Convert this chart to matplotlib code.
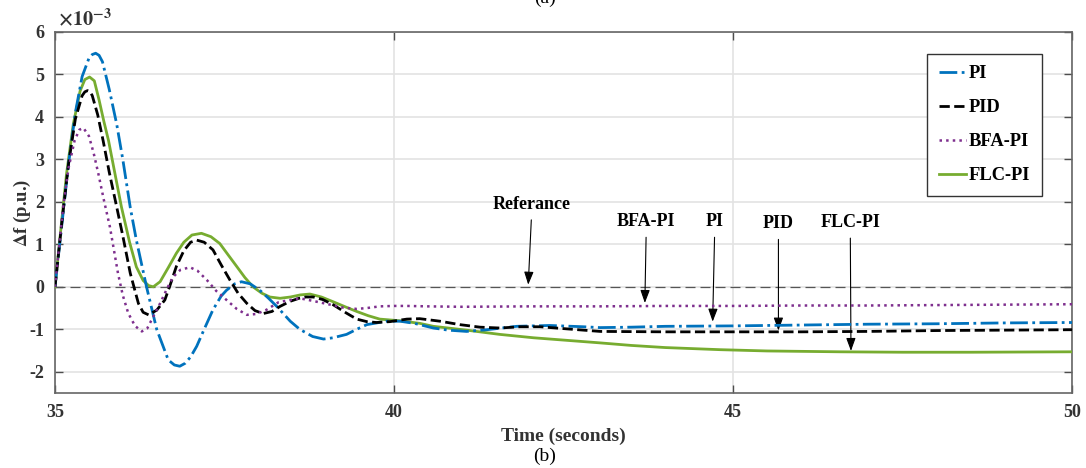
import numpy as np
import matplotlib
matplotlib.use("Agg")
import matplotlib.pyplot as plt

plt.rcParams['font.family'] = ['Liberation Serif', 'DejaVu Serif']
plt.rcParams['font.weight'] = 'bold'
plt.rcParams['mathtext.fontset'] = 'stix'

# ---- data (time in s, delta f in units of 1e-3 p.u.) ----
t_pi = [35.0, 35.1, 35.2, 35.3, 35.4, 35.5, 35.55, 35.6, 35.65, 35.7, 35.8, 35.91, 36.0, 36.11,
        36.2, 36.35, 36.5, 36.67, 36.76, 36.84, 36.92, 37.0, 37.09, 37.2, 37.33, 37.45, 37.53,
        37.65, 37.75, 37.88, 38.02, 38.15, 38.27, 38.47, 38.61, 38.8, 38.96, 39.1,
        39.3, 39.45, 39.6, 39.89, 40.09, 40.3, 40.58, 40.8, 41.07, 41.37, 41.81,
        42.3, 42.79, 43.04, 43.5, 44.0, 45.0, 46.0, 47.0, 48.0, 49.0, 50.0]
y_pi = [0.0, 1.45, 2.9, 4.1, 4.95, 5.38, 5.47, 5.5, 5.45, 5.3, 4.65, 3.83, 3.0, 1.87,
        1.1, 0.0, -1.0, -1.72, -1.84, -1.87, -1.8, -1.65, -1.4, -1.0, -0.54, -0.22, -0.08,
        0.07, 0.12, 0.07, -0.08, -0.27, -0.46, -0.81, -1.0, -1.17, -1.23, -1.2,
        -1.12, -1.0, -0.89, -0.81, -0.81, -0.86, -0.97, -1.02, -1.05, -1.01, -0.93,
        -0.91, -0.94, -0.96, -0.95, -0.93, -0.92, -0.9, -0.88, -0.87, -0.85, -0.84]

t_pid = [35.0, 35.1, 35.2, 35.3, 35.4, 35.44, 35.48, 35.52, 35.55, 35.63, 35.71, 35.8, 35.91,
         36.0, 36.11, 36.23, 36.3, 36.38, 36.5, 36.62, 36.7, 36.79, 36.9, 37.0,
         37.09, 37.2, 37.33, 37.45, 37.58, 37.7, 37.83, 37.95, 38.07, 38.2, 38.32,
         38.47, 38.6, 38.7, 38.81, 38.95, 39.1, 39.3, 39.45, 39.6, 39.74, 39.94,
         40.19, 40.38, 40.68, 40.97, 41.27, 41.56, 41.86, 42.15, 42.55, 43.04,
         44.0, 45.0, 46.0, 47.0, 48.0, 49.0, 50.0]
y_pid = [0.0, 1.5, 2.9, 3.95, 4.5, 4.59, 4.62, 4.59, 4.5, 4.05, 3.44, 2.7, 1.88,
         1.2, 0.32, -0.39, -0.6, -0.66, -0.55, -0.31, 0.05, 0.48, 0.85, 1.05,
         1.1, 1.05, 0.87, 0.52, 0.16, -0.15, -0.39, -0.56, -0.63, -0.58, -0.46,
         -0.34, -0.27, -0.24, -0.24, -0.3, -0.42, -0.62, -0.76, -0.82, -0.84, -0.82,
         -0.76, -0.75, -0.81, -0.89, -0.95, -0.97, -0.94, -0.94, -0.99, -1.05,
         -1.06, -1.06, -1.06, -1.05, -1.03, -1.02, -1.01]

t_bfa = [35.0, 35.12, 35.2, 35.29, 35.36, 35.42, 35.5, 35.57, 35.64, 35.72, 35.81,
         35.93, 36.0, 36.08, 36.18, 36.28, 36.36, 36.45, 36.55, 36.65, 36.74, 36.85,
         36.99, 37.1, 37.24, 37.38, 37.53, 37.68, 37.83, 37.97, 38.12, 38.3, 38.47,
         38.61, 38.8, 39.06, 39.25, 39.45, 39.6, 39.79, 40.0, 40.19, 40.5, 41.0,
         42.0, 43.0, 44.0, 45.0, 46.0, 47.0, 48.0, 49.0, 50.0]
y_bfa = [0.0, 1.88, 2.8, 3.45, 3.7, 3.74, 3.55, 3.15, 2.66, 2.05, 1.41,
         0.31, -0.2, -0.62, -0.92, -1.05, -0.98, -0.7, -0.39, -0.05, 0.23, 0.4,
         0.46, 0.38, 0.16, -0.1, -0.31, -0.52, -0.66, -0.64, -0.54, -0.36, -0.31,
         -0.27, -0.33, -0.42, -0.49, -0.52, -0.5, -0.46, -0.45, -0.45, -0.46, -0.47,
         -0.46, -0.46, -0.45, -0.45, -0.44, -0.44, -0.43, -0.42, -0.41]

t_flc = [35.0, 35.07, 35.17, 35.27, 35.37, 35.44, 35.51, 35.58, 35.65, 35.72, 35.79,
         35.88, 35.98, 36.1, 36.2, 36.3, 36.38, 36.45, 36.55, 36.67, 36.79, 36.9,
         37.02, 37.16, 37.3, 37.43, 37.55, 37.68, 37.8, 37.92, 38.05, 38.17, 38.32,
         38.47, 38.62, 38.76, 38.93, 39.1, 39.28, 39.45, 39.62, 39.79, 40.09, 40.38,
         40.58, 41.07, 41.56, 42.06, 42.55, 43.04, 43.5, 44.0, 44.81, 45.5, 46.58,
         47.5, 48.5, 50.0]
y_flc = [0.0, 1.1, 2.66, 3.83, 4.61, 4.88, 4.94, 4.85, 4.4, 3.9, 3.44,
         2.7, 1.88, 1.05, 0.47, 0.15, 0.03, 0.0, 0.12, 0.45, 0.79, 1.05,
         1.22, 1.26, 1.18, 1.02, 0.76, 0.48, 0.22, 0.0, -0.15, -0.24, -0.27,
         -0.24, -0.19, -0.17, -0.24, -0.35, -0.47, -0.58, -0.68, -0.76, -0.8, -0.86,
         -0.93, -1.02, -1.12, -1.2, -1.26, -1.32, -1.38, -1.43, -1.48, -1.51, -1.53,
         -1.54, -1.54, -1.53]

ref_level = 0.0

# arrow annotations: label, text position, arrow tip
ann_labels = ['Referance', 'BFA-PI', 'PI', 'PID', 'FLC-PI']
ann_text_xy = [(42.03, 1.74), (43.72, 1.33), (44.73, 1.33), (45.67, 1.28), (46.73, 1.31)]
ann_tip_xy = [(41.98, 0.05), (43.70, -0.38), (44.70, -0.82), (45.67, -1.03), (46.74, -1.51)]

# ---- plot ----
fig = plt.figure(figsize=(10.86, 4.68), dpi=100)
ax = fig.add_axes([55/1086, 1-393/468, (1072-55)/1086, (393-32)/468])

scale = 1e-3
ax.axhline(ref_level, color='#555555', lw=0.9, ls=(0, (8, 4)), zorder=2)
ax.plot(t_pi, np.array(y_pi)*scale, color='#0072BD', lw=2.0, ls='-.', label='PI', zorder=4)
ax.plot(t_pid, np.array(y_pid)*scale, color='black', lw=2.0, ls='--', label='PID', zorder=4)
ax.plot(t_bfa, np.array(y_bfa)*scale, color='#7E2F8E', lw=1.8, ls=':', label='BFA-PI', zorder=4)
ax.plot(t_flc, np.array(y_flc)*scale, color='#77AC30', lw=2.0, ls='-', label='FLC-PI', zorder=3)

for lab, txy, tip in zip(ann_labels, ann_text_xy, ann_tip_xy):
    ax.annotate(lab, xy=(tip[0], tip[1]*scale), xytext=(txy[0], txy[1]*scale),
                ha='center', va='bottom', fontsize=13, fontweight='bold',
                arrowprops=dict(arrowstyle='-|>,head_length=0.6,head_width=0.22',
                                color='black', lw=0.8, shrinkA=3, shrinkB=0,
                                relpos=(0.5, 0.0)))

ax.set_xlim(35, 50)
ax.set_ylim(-2.5e-3, 6e-3)
ax.set_xticks([35, 40, 45, 50])
yt = np.arange(-2, 7)
ax.set_yticks(yt*scale)
ax.set_yticklabels([str(v) for v in yt])
ax.grid(True, color='#e3e3e3', lw=1.2)
ax.set_axisbelow(True)
ax.tick_params(direction='in', length=6, width=1.0, top=True, right=True,
               labelsize=13, colors='#4d4d4d', labelcolor='#333333', pad=8)
for sp in ax.spines.values():
    sp.set_color('#666666')
    sp.set_linewidth(1.2)

ax.set_xlabel('Time (seconds)', fontsize=14, fontweight='bold', color='#333333', labelpad=5)
ax.set_ylabel(r'$\mathbf{\Delta}$f (p.u.)', fontsize=13.5, fontweight='bold', color='#333333', labelpad=-3)
ax.text(0.003, 1.004, r'$\times10^{-3}$', transform=ax.transAxes, fontsize=14.5,
        color='#333333', ha='left', va='bottom')

leg = ax.legend(loc='upper right', bbox_to_anchor=(0.9705, 0.939), fontsize=13.3,
                frameon=True, fancybox=False, edgecolor='#333333', framealpha=1,
                handlelength=1.5, handletextpad=0.15, labelspacing=0.92,
                borderpad=0.62, borderaxespad=0)
leg.get_frame().set_linewidth(1.0)
for txt in leg.get_texts():
    txt.set_fontweight('bold')

fig.text(545/1086, 1.004, '(a)', fontsize=14, fontweight='normal', ha='center', va='center')
fig.text(545/1086, 1-456/468, '(b)', fontsize=14, fontweight='normal', ha='center', va='center')

fig.savefig('out.png', dpi=100)
